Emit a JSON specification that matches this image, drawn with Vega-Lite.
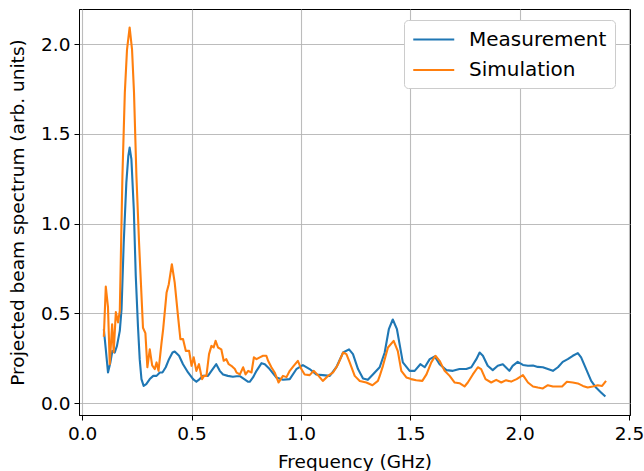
{
  "$schema": "https://vega.github.io/schema/vega-lite/v6.json",
  "width": 551,
  "height": 406,
  "autosize": {"type": "none"},
  "padding": {"left": 79, "top": 9, "right": 14, "bottom": 56},
  "background": "white",
  "config": {
    "font": "DejaVu Sans",
    "view": {"stroke": "black", "strokeWidth": 1},
    "axis": {
      "labelFont": "DejaVu Sans", "titleFont": "DejaVu Sans",
      "labelFontSize": 18.5, "titleFontSize": 18.5, "titleFontWeight": "normal",
      "labelColor": "black", "titleColor": "black", "labelFlush": false, "labelOverlap": false,
      "domainColor": "black", "tickColor": "black", "tickSize": 5, "labelPadding": 4,
      "gridColor": "#b0b0b0", "gridWidth": 1.1, "gridOpacity": 0.85
    },
    "legend": {"labelFont": "DejaVu Sans"}
  },
  "data": {"values": [
    {"s":"Measurement","f":0.099,"v":0.412},{"s":"Measurement","f":0.108,"v":0.30},{"s":"Measurement","f":0.118,"v":0.171},{"s":"Measurement","f":0.129,"v":0.227},{"s":"Measurement","f":0.138,"v":0.291},{"s":"Measurement","f":0.149,"v":0.282},{"s":"Measurement","f":0.159,"v":0.319},{"s":"Measurement","f":0.172,"v":0.403},{"s":"Measurement","f":0.180,"v":0.524},{"s":"Measurement","f":0.190,"v":0.895},{"s":"Measurement","f":0.202,"v":1.23},{"s":"Measurement","f":0.211,"v":1.378},{"s":"Measurement","f":0.217,"v":1.424},{"s":"Measurement","f":0.225,"v":1.36},{"s":"Measurement","f":0.236,"v":1.08},{"s":"Measurement","f":0.245,"v":0.709},{"s":"Measurement","f":0.255,"v":0.43},{"s":"Measurement","f":0.263,"v":0.245},{"s":"Measurement","f":0.271,"v":0.134},{"s":"Measurement","f":0.281,"v":0.096},{"s":"Measurement","f":0.293,"v":0.106},{"s":"Measurement","f":0.309,"v":0.134},{"s":"Measurement","f":0.325,"v":0.152},{"s":"Measurement","f":0.340,"v":0.152},{"s":"Measurement","f":0.355,"v":0.171},{"s":"Measurement","f":0.367,"v":0.171},{"s":"Measurement","f":0.382,"v":0.2},{"s":"Measurement","f":0.397,"v":0.245},{"s":"Measurement","f":0.413,"v":0.282},{"s":"Measurement","f":0.423,"v":0.288},{"s":"Measurement","f":0.443,"v":0.264},{"s":"Measurement","f":0.461,"v":0.217},{"s":"Measurement","f":0.484,"v":0.171},{"s":"Measurement","f":0.507,"v":0.134},{"s":"Measurement","f":0.522,"v":0.119},{"s":"Measurement","f":0.537,"v":0.134},{"s":"Measurement","f":0.552,"v":0.152},{"s":"Measurement","f":0.575,"v":0.152},{"s":"Measurement","f":0.591,"v":0.18},{"s":"Measurement","f":0.613,"v":0.217},{"s":"Measurement","f":0.629,"v":0.18},{"s":"Measurement","f":0.644,"v":0.16},{"s":"Measurement","f":0.666,"v":0.152},{"s":"Measurement","f":0.689,"v":0.147},{"s":"Measurement","f":0.706,"v":0.15},{"s":"Measurement","f":0.721,"v":0.15},{"s":"Measurement","f":0.736,"v":0.138},{"s":"Measurement","f":0.759,"v":0.119},{"s":"Measurement","f":0.766,"v":0.119},{"s":"Measurement","f":0.781,"v":0.143},{"s":"Measurement","f":0.797,"v":0.18},{"s":"Measurement","f":0.820,"v":0.223},{"s":"Measurement","f":0.835,"v":0.217},{"s":"Measurement","f":0.857,"v":0.19},{"s":"Measurement","f":0.888,"v":0.143},{"s":"Measurement","f":0.918,"v":0.13},{"s":"Measurement","f":0.949,"v":0.134},{"s":"Measurement","f":0.979,"v":0.189},{"s":"Measurement","f":1.009,"v":0.212},{"s":"Measurement","f":1.040,"v":0.19},{"s":"Measurement","f":1.070,"v":0.16},{"s":"Measurement","f":1.100,"v":0.156},{"s":"Measurement","f":1.132,"v":0.152},{"s":"Measurement","f":1.162,"v":0.2},{"s":"Measurement","f":1.193,"v":0.282},{"s":"Measurement","f":1.220,"v":0.30},{"s":"Measurement","f":1.238,"v":0.273},{"s":"Measurement","f":1.261,"v":0.19},{"s":"Measurement","f":1.284,"v":0.137},{"s":"Measurement","f":1.306,"v":0.13},{"s":"Measurement","f":1.329,"v":0.16},{"s":"Measurement","f":1.360,"v":0.2},{"s":"Measurement","f":1.383,"v":0.282},{"s":"Measurement","f":1.402,"v":0.412},{"s":"Measurement","f":1.420,"v":0.466},{"s":"Measurement","f":1.439,"v":0.412},{"s":"Measurement","f":1.466,"v":0.227},{"s":"Measurement","f":1.497,"v":0.18},{"s":"Measurement","f":1.520,"v":0.18},{"s":"Measurement","f":1.546,"v":0.217},{"s":"Measurement","f":1.566,"v":0.2},{"s":"Measurement","f":1.589,"v":0.245},{"s":"Measurement","f":1.612,"v":0.26},{"s":"Measurement","f":1.634,"v":0.217},{"s":"Measurement","f":1.665,"v":0.184},{"s":"Measurement","f":1.695,"v":0.18},{"s":"Measurement","f":1.725,"v":0.19},{"s":"Measurement","f":1.756,"v":0.19},{"s":"Measurement","f":1.779,"v":0.2},{"s":"Measurement","f":1.802,"v":0.245},{"s":"Measurement","f":1.817,"v":0.282},{"s":"Measurement","f":1.832,"v":0.264},{"s":"Measurement","f":1.854,"v":0.208},{"s":"Measurement","f":1.877,"v":0.184},{"s":"Measurement","f":1.900,"v":0.208},{"s":"Measurement","f":1.923,"v":0.217},{"s":"Measurement","f":1.953,"v":0.18},{"s":"Measurement","f":1.968,"v":0.208},{"s":"Measurement","f":1.991,"v":0.23},{"s":"Measurement","f":2.015,"v":0.213},{"s":"Measurement","f":2.038,"v":0.208},{"s":"Measurement","f":2.061,"v":0.21},{"s":"Measurement","f":2.083,"v":0.202},{"s":"Measurement","f":2.106,"v":0.2},{"s":"Measurement","f":2.129,"v":0.19},{"s":"Measurement","f":2.152,"v":0.18},{"s":"Measurement","f":2.175,"v":0.2},{"s":"Measurement","f":2.197,"v":0.23},{"s":"Measurement","f":2.220,"v":0.245},{"s":"Measurement","f":2.243,"v":0.264},{"s":"Measurement","f":2.266,"v":0.279},{"s":"Measurement","f":2.281,"v":0.255},{"s":"Measurement","f":2.304,"v":0.19},{"s":"Measurement","f":2.327,"v":0.124},{"s":"Measurement","f":2.349,"v":0.087},{"s":"Measurement","f":2.372,"v":0.06},{"s":"Measurement","f":2.392,"v":0.037},
    {"s":"Simulation","f":0.099,"v":0.37},{"s":"Simulation","f":0.108,"v":0.65},{"s":"Simulation","f":0.118,"v":0.535},{"s":"Simulation","f":0.126,"v":0.217},{"s":"Simulation","f":0.137,"v":0.44},{"s":"Simulation","f":0.144,"v":0.284},{"s":"Simulation","f":0.154,"v":0.507},{"s":"Simulation","f":0.164,"v":0.45},{"s":"Simulation","f":0.172,"v":0.514},{"s":"Simulation","f":0.184,"v":1.266},{"s":"Simulation","f":0.195,"v":1.73},{"s":"Simulation","f":0.205,"v":1.97},{"s":"Simulation","f":0.217,"v":2.093},{"s":"Simulation","f":0.228,"v":1.97},{"s":"Simulation","f":0.237,"v":1.73},{"s":"Simulation","f":0.248,"v":1.266},{"s":"Simulation","f":0.260,"v":0.895},{"s":"Simulation","f":0.278,"v":0.42},{"s":"Simulation","f":0.289,"v":0.39},{"s":"Simulation","f":0.298,"v":0.2},{"s":"Simulation","f":0.309,"v":0.30},{"s":"Simulation","f":0.320,"v":0.21},{"s":"Simulation","f":0.332,"v":0.19},{"s":"Simulation","f":0.340,"v":0.227},{"s":"Simulation","f":0.349,"v":0.18},{"s":"Simulation","f":0.363,"v":0.338},{"s":"Simulation","f":0.370,"v":0.41},{"s":"Simulation","f":0.386,"v":0.617},{"s":"Simulation","f":0.396,"v":0.663},{"s":"Simulation","f":0.410,"v":0.774},{"s":"Simulation","f":0.423,"v":0.672},{"s":"Simulation","f":0.438,"v":0.486},{"s":"Simulation","f":0.449,"v":0.357},{"s":"Simulation","f":0.461,"v":0.357},{"s":"Simulation","f":0.474,"v":0.291},{"s":"Simulation","f":0.489,"v":0.291},{"s":"Simulation","f":0.500,"v":0.208},{"s":"Simulation","f":0.510,"v":0.255},{"s":"Simulation","f":0.522,"v":0.18},{"s":"Simulation","f":0.534,"v":0.217},{"s":"Simulation","f":0.548,"v":0.134},{"s":"Simulation","f":0.557,"v":0.152},{"s":"Simulation","f":0.568,"v":0.152},{"s":"Simulation","f":0.580,"v":0.273},{"s":"Simulation","f":0.591,"v":0.319},{"s":"Simulation","f":0.601,"v":0.31},{"s":"Simulation","f":0.610,"v":0.347},{"s":"Simulation","f":0.621,"v":0.31},{"s":"Simulation","f":0.636,"v":0.30},{"s":"Simulation","f":0.647,"v":0.236},{"s":"Simulation","f":0.659,"v":0.245},{"s":"Simulation","f":0.670,"v":0.217},{"s":"Simulation","f":0.682,"v":0.208},{"s":"Simulation","f":0.698,"v":0.19},{"s":"Simulation","f":0.706,"v":0.17},{"s":"Simulation","f":0.721,"v":0.16},{"s":"Simulation","f":0.736,"v":0.2},{"s":"Simulation","f":0.747,"v":0.16},{"s":"Simulation","f":0.759,"v":0.18},{"s":"Simulation","f":0.774,"v":0.171},{"s":"Simulation","f":0.785,"v":0.255},{"s":"Simulation","f":0.797,"v":0.245},{"s":"Simulation","f":0.812,"v":0.255},{"s":"Simulation","f":0.827,"v":0.264},{"s":"Simulation","f":0.842,"v":0.264},{"s":"Simulation","f":0.850,"v":0.236},{"s":"Simulation","f":0.865,"v":0.2},{"s":"Simulation","f":0.880,"v":0.171},{"s":"Simulation","f":0.898,"v":0.115},{"s":"Simulation","f":0.918,"v":0.152},{"s":"Simulation","f":0.934,"v":0.145},{"s":"Simulation","f":0.949,"v":0.18},{"s":"Simulation","f":0.967,"v":0.208},{"s":"Simulation","f":0.986,"v":0.236},{"s":"Simulation","f":1.002,"v":0.19},{"s":"Simulation","f":1.017,"v":0.16},{"s":"Simulation","f":1.040,"v":0.156},{"s":"Simulation","f":1.058,"v":0.18},{"s":"Simulation","f":1.078,"v":0.156},{"s":"Simulation","f":1.100,"v":0.124},{"s":"Simulation","f":1.124,"v":0.152},{"s":"Simulation","f":1.147,"v":0.171},{"s":"Simulation","f":1.170,"v":0.217},{"s":"Simulation","f":1.193,"v":0.282},{"s":"Simulation","f":1.208,"v":0.273},{"s":"Simulation","f":1.223,"v":0.227},{"s":"Simulation","f":1.246,"v":0.152},{"s":"Simulation","f":1.269,"v":0.124},{"s":"Simulation","f":1.299,"v":0.115},{"s":"Simulation","f":1.327,"v":0.1},{"s":"Simulation","f":1.352,"v":0.124},{"s":"Simulation","f":1.360,"v":0.15},{"s":"Simulation","f":1.375,"v":0.208},{"s":"Simulation","f":1.398,"v":0.31},{"s":"Simulation","f":1.424,"v":0.347},{"s":"Simulation","f":1.443,"v":0.29},{"s":"Simulation","f":1.459,"v":0.18},{"s":"Simulation","f":1.482,"v":0.143},{"s":"Simulation","f":1.504,"v":0.134},{"s":"Simulation","f":1.527,"v":0.128},{"s":"Simulation","f":1.555,"v":0.124},{"s":"Simulation","f":1.574,"v":0.16},{"s":"Simulation","f":1.596,"v":0.227},{"s":"Simulation","f":1.615,"v":0.264},{"s":"Simulation","f":1.634,"v":0.236},{"s":"Simulation","f":1.657,"v":0.18},{"s":"Simulation","f":1.680,"v":0.152},{"s":"Simulation","f":1.703,"v":0.115},{"s":"Simulation","f":1.725,"v":0.111},{"s":"Simulation","f":1.748,"v":0.093},{"s":"Simulation","f":1.763,"v":0.115},{"s":"Simulation","f":1.786,"v":0.16},{"s":"Simulation","f":1.809,"v":0.2},{"s":"Simulation","f":1.824,"v":0.19},{"s":"Simulation","f":1.844,"v":0.134},{"s":"Simulation","f":1.870,"v":0.115},{"s":"Simulation","f":1.893,"v":0.13},{"s":"Simulation","f":1.916,"v":0.115},{"s":"Simulation","f":1.938,"v":0.128},{"s":"Simulation","f":1.961,"v":0.12},{"s":"Simulation","f":1.986,"v":0.134},{"s":"Simulation","f":2.015,"v":0.156},{"s":"Simulation","f":2.038,"v":0.115},{"s":"Simulation","f":2.061,"v":0.093},{"s":"Simulation","f":2.083,"v":0.087},{"s":"Simulation","f":2.106,"v":0.082},{"s":"Simulation","f":2.129,"v":0.1},{"s":"Simulation","f":2.152,"v":0.093},{"s":"Simulation","f":2.175,"v":0.093},{"s":"Simulation","f":2.194,"v":0.093},{"s":"Simulation","f":2.216,"v":0.119},{"s":"Simulation","f":2.243,"v":0.115},{"s":"Simulation","f":2.266,"v":0.11},{"s":"Simulation","f":2.289,"v":0.096},{"s":"Simulation","f":2.311,"v":0.087},{"s":"Simulation","f":2.334,"v":0.093},{"s":"Simulation","f":2.357,"v":0.1},{"s":"Simulation","f":2.377,"v":0.096},{"s":"Simulation","f":2.395,"v":0.124}
  ]},
  "mark": {"type": "line", "strokeWidth": 2.1, "strokeJoin": "round", "clip": true},
  "encoding": {
    "x": {
      "field": "f", "type": "quantitative",
      "scale": {"domain": [-0.0145, 2.5045], "nice": false, "zero": false},
      "axis": {"title": "Frequency (GHz)", "values": [0, 0.5, 1, 1.5, 2, 2.5], "format": ".1f", "titlePadding": 10}
    },
    "y": {
      "field": "v", "type": "quantitative",
      "scale": {"domain": [-0.066, 2.196], "nice": false, "zero": false},
      "axis": {"title": "Projected beam spectrum (arb. units)", "values": [0, 0.5, 1, 1.5, 2], "format": ".1f", "titlePadding": 13}
    },
    "color": {
      "field": "s", "type": "nominal",
      "scale": {"domain": ["Measurement", "Simulation"], "range": ["#1f77b4", "#ff7f0e"]},
      "legend": {
        "title": null, "orient": "none", "legendX": 325, "legendY": 11,
        "symbolType": "M-1,0H3", "symbolSize": 420, "symbolStrokeWidth": 2.1,
        "labelFontSize": 20, "labelColor": "black", "labelOffset": 34,
        "rowPadding": 8.5, "padding": 8,
        "strokeColor": "#cccccc", "fillColor": "white", "cornerRadius": 4
      }
    }
  }
}
